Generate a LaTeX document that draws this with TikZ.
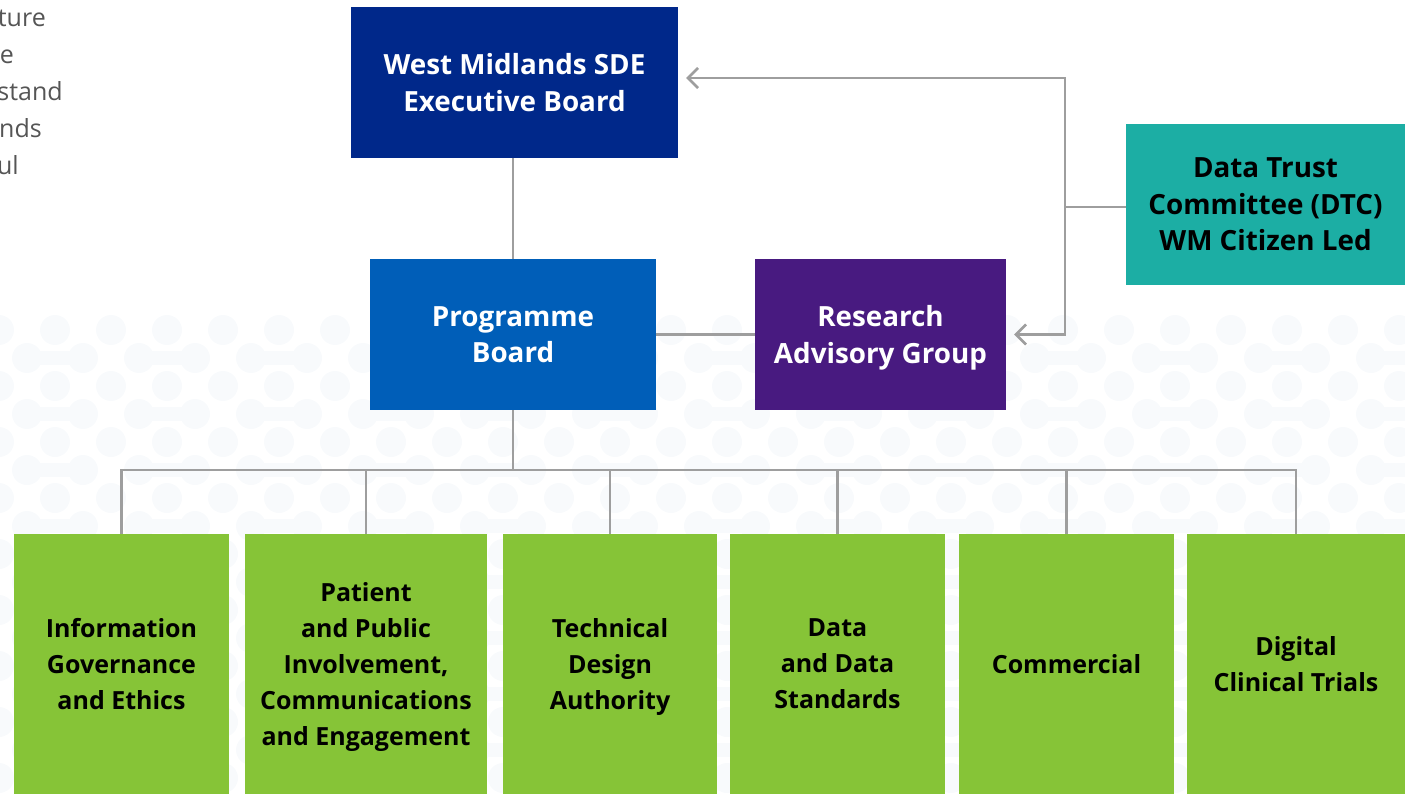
\documentclass[tikz,border=0pt]{standalone}
\usepackage{fontspec}
\setmainfont{Open Sans}
\usetikzlibrary{arrows.meta}

\definecolor{execblue}{HTML}{00288A}
\definecolor{progblue}{HTML}{005EB8}
\definecolor{ragpurple}{HTML}{481A80}
\definecolor{dtcteal}{HTML}{1CAEA4}
\definecolor{wsgreen}{HTML}{86C437}
\definecolor{linkgrey}{HTML}{9E9E9E}
\definecolor{bodygrey}{HTML}{555555}
\definecolor{dotfaint}{HTML}{F8FAFC}

\tikzset{
  board/.style={rectangle, inner sep=0pt, align=center, text depth=0pt,
    font=\fontsize{27.8}{36.5}\selectfont\bfseries},
  topbox/.style={board, text=white},
  dtcbox/.style={board, fill=dtcteal, text=black, minimum width=279pt, minimum height=161pt},
  wsbox/.style={rectangle, inner sep=0pt, align=center, fill=wsgreen, text=black, text depth=0pt,
    minimum height=260pt, font=\fontsize{25}{36}\selectfont\bfseries},
  conn/.style={draw=linkgrey, line width=2.6pt},
  feed/.style={conn, -{Straight Barb[length=10pt,width=20pt,line width=2.6pt]}, shorten >=8pt},
  bodytext/.style={anchor=base east, inner sep=0pt, text=bodygrey, font=\fontsize{25}{37}\selectfont}
}

\begin{document}
\begin{tikzpicture}[x=1pt, y=-1pt]
  \useasboundingbox (0,0) rectangle (1405,794);

  % faint dot-and-link backdrop
  \foreach \r in {0,...,16} {
    \pgfmathsetmacro{\yy}{330+28*\r}
    \pgfmathsetmacro{\off}{mod(\r,2)*28}
    \foreach \c in {0,...,25} {
      \fill[dotfaint] (\off-1+56*\c, \yy) circle (15pt);
    }
    \ifodd\r
      \foreach \c in {0,2,...,24} {
        \draw[dotfaint, line width=14pt] (\off-1+56*\c, \yy) -- (\off+55+56*\c, \yy);
      }
    \fi
  }

  % clipped body text at the left edge
  \node[bodytext] (t1) at (46,27) {ture};
  \node[bodytext] (t2) at (14,64) {e};
  \node[bodytext] (t3) at (63,101) {stand};
  \node[bodytext] (t4) at (42,138) {nds};
  \node[bodytext] (t5) at (19,175) {ul};

  % governance boards
  \node[topbox, fill=execblue, minimum width=327pt, minimum height=151pt] (exec) at (514.5,82.5)
    {West Midlands SDE\\Executive Board};
  \node[topbox, fill=progblue, minimum width=286pt, minimum height=151pt] (prog) at (513,334.5)
    {Programme\\Board};
  \node[topbox, fill=ragpurple, minimum width=251pt, minimum height=151pt] (rag) at (880.5,334.5)
    {Research\\Advisory Group};
  \node[dtcbox] (dtc) at (1265.5,204.5)
    {Data Trust\\Committee (DTC)\\WM Citizen Led};

  % workstreams
  \node[wsbox, minimum width=215pt] (g1) at (121.5,664) {Information\\Governance\\and Ethics};
  \node[wsbox, minimum width=242pt] (g2) at (366,664) {Patient\\and Public\\Involvement,\\Communications\\and Engagement};
  \node[wsbox, minimum width=214pt] (g3) at (610,664) {Technical\\Design\\Authority};
  \node[wsbox, minimum width=215pt] (g4) at (837.5,664) {Data\\and Data\\Standards};
  \node[wsbox, minimum width=215pt] (g5) at (1066.5,664) {Commercial};
  \node[wsbox, minimum width=218pt] (g6) at (1296,664) {Digital\\Clinical Trials};

  % connectors
  \coordinate (bus) at (513,470);
  \coordinate (junc) at (1065,207);
  \draw[conn] (prog.north |- exec.south) -- (prog.north);
  \draw[conn] (prog.east) -- (rag.west);
  \draw[conn] (prog.south) -- (bus);
  \foreach \g in {g1,g2,g3,g4,g5,g6} {
    \draw[conn] (\g.north) |- (bus);
  }
  \draw[conn] (dtc.west |- junc) -- (junc);
  \draw[feed] (junc) |- ([yshift=4.5pt]exec.east);
  \draw[feed] (junc) |- (rag.east);
\end{tikzpicture}
\end{document}
